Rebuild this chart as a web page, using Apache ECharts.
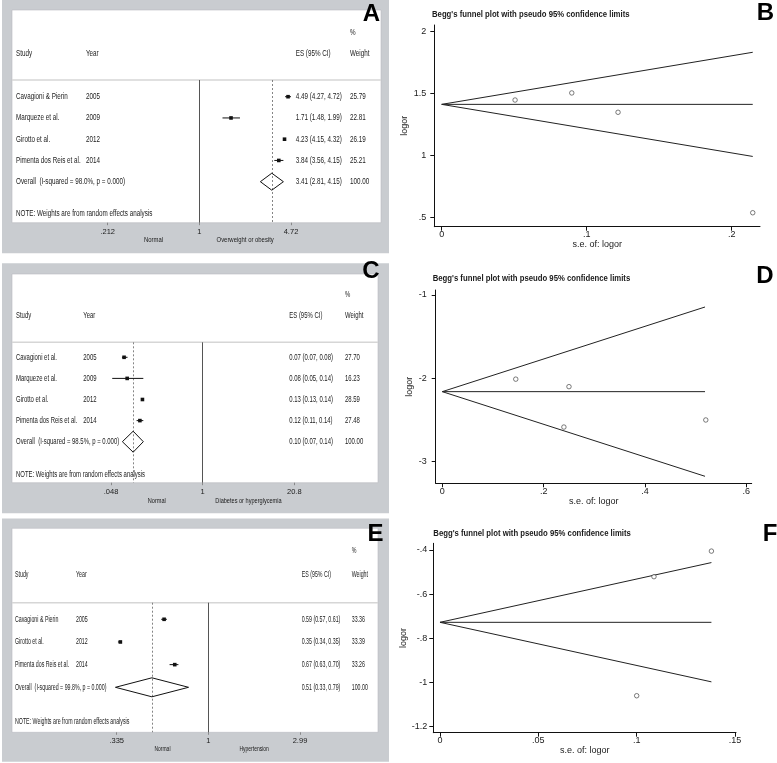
<!DOCTYPE html>
<html><head><meta charset="utf-8">
<script src="https://cdn.jsdelivr.net/npm/echarts@6/dist/echarts.min.js"></script>
<style>html,body{margin:0;padding:0;background:#fff}#c{width:777px;height:763px}</style>
</head><body><div id="c"></div>
<script>
// ================= DATA =================
// Panel A – Overweight or obesity
const studiesA = ['Cavagioni & Pierin', 'Marqueze et al.', 'Girotto et al.', 'Pimenta dos Reis et al.'];
const yearsA = ['2005', '2009', '2012', '2014'];
const esA = [4.49, 1.71, 4.23, 3.84];
const loA = [4.27, 1.48, 4.15, 3.56];
const hiA = [4.72, 1.99, 4.32, 4.15];
const esTextA = ['4.49 (4.27, 4.72)', '1.71 (1.48, 1.99)', '4.23 (4.15, 4.32)', '3.84 (3.56, 4.15)'];
const weightA = ['25.79', '22.81', '26.19', '25.21'];
const overallA = [3.41, 2.81, 4.15];
const overallTextA = ['Overall  (I-squared = 98.0%, p = 0.000)', '3.41 (2.81, 4.15)', '100.00'];
const ticksA = [0.212, 1, 4.72];
const tickLabelsA = ['.212', '1', '4.72'];
const favourA = ['Normal', 'Overweight or obesity'];

// Panel C – Diabetes or hyperglycemia
const studiesC = ['Cavagioni et al.', 'Marqueze et al.', 'Girotto et al.', 'Pimenta dos Reis et al.'];
const yearsC = ['2005', '2009', '2012', '2014'];
const esC = [0.074, 0.082, 0.136, 0.125];
const loC = [0.069, 0.050, 0.131, 0.112];
const hiC = [0.083, 0.140, 0.141, 0.140];
const esTextC = ['0.07 (0.07, 0.08)', '0.08 (0.05, 0.14)', '0.13 (0.13, 0.14)', '0.12 (0.11, 0.14)'];
const weightC = ['27.70', '16.23', '28.59', '27.48'];
const overallC = [0.10, 0.07, 0.14];
const overallTextC = ['Overall  (I-squared = 98.5%, p = 0.000)', '0.10 (0.07, 0.14)', '100.00'];
const ticksC = [0.048, 1, 20.8];
const tickLabelsC = ['.048', '1', '20.8'];
const favourC = ['Normal', 'Diabetes or hyperglycemia'];

// Panel E – Hypertension
const studiesE = ['Cavagioni & Pierin', 'Girotto et al.', 'Pimenta dos Reis et al.'];
const yearsE = ['2005', '2012', '2014'];
const esE = [0.59, 0.35, 0.67];
const loE = [0.57, 0.34, 0.63];
const hiE = [0.61, 0.35, 0.70];
const esTextE = ['0.59 (0.57, 0.61)', '0.35 (0.34, 0.35)', '0.67 (0.63, 0.70)'];
const weightE = ['33.36', '33.39', '33.26'];
const overallE = [0.51, 0.33, 0.79];
const overallTextE = ['Overall  (I-squared = 99.8%, p = 0.000)', '0.51 (0.33, 0.79)', '100.00'];
const ticksE = [0.335, 1, 2.99];
const tickLabelsE = ['.335', '1', '2.99'];
const favourE = ['Normal', 'Hypertension'];

const headerCols = ['Study', 'Year', 'ES (95% CI)', 'Weight'];
const noteText = 'NOTE: Weights are from random effects analysis';

// Funnel B
const seB = [0.0506, 0.0897, 0.1216, 0.2145];
const logorB = [1.449, 1.506, 1.350, 0.540];
const meanB = [[0, 1.414], [0.2145, 1.414]];
const upperB = [[0, 1.414], [0.2145, 1.834]];
const lowerB = [[0, 1.414], [0.2145, 0.994]];
const xTicksB = [0, 0.1, 0.2], xLabelsB = ['0', '.1', '.2'];
const yTicksB = [0.5, 1, 1.5, 2], yLabelsB = ['.5', '1', '1.5', '2'];

// Funnel D
const seD = [0.145, 0.250, 0.240, 0.520];
const logorD = [-2.01, -2.10, -2.585, -2.50];
const meanD = [[0, -2.16], [0.5185, -2.16]];
const upperD = [[0, -2.16], [0.5185, -1.144]];
const lowerD = [[0, -2.16], [0.5185, -3.176]];
const xTicksD = [0, 0.2, 0.4, 0.6], xLabelsD = ['0', '.2', '.4', '.6'];
const yTicksD = [-3, -2, -1], yLabelsD = ['-3', '-2', '-1'];

// Funnel F
const seF = [0.138, 0.1088, 0.100];
const logorF = [-0.405, -0.521, -1.061];
const meanF = [[0, -0.728], [0.138, -0.728]];
const upperF = [[0, -0.728], [0.138, -0.457]];
const lowerF = [[0, -0.728], [0.138, -0.998]];
const xTicksF = [0, 0.05, 0.1, 0.15], xLabelsF = ['0', '.05', '.1', '.15'];
const yTicksF = [-1.2, -1, -0.8, -0.6, -0.4], yLabelsF = ['-1.2', '-1', '-.8', '-.6', '-.4'];

const funnelTitle = "Begg's funnel plot with pseudo 95% confidence limits";
const funnelXName = 's.e. of: logor';
const funnelYName = 'logor';
const letters = ['A', 'B', 'C', 'D', 'E', 'F'];

// ================= LAYOUT =================
const FONT = 'Liberation Sans, Arial, Helvetica, sans-serif';
const GRAY = '#c9ccd0';
const TXT = '#1a1a1a';

const forests = [
  { d: { studies: studiesA, years: yearsA, es: esA, lo: loA, hi: hiA, esText: esTextA, weight: weightA, overall: overallA, overallText: overallTextA, ticks: ticksA, tickLabels: tickLabelsA, favour: favourA },
    L: { grid: { left: 107.7, top: 80, width: 183.3, height: 142.7 }, row0: 96.7, step: 21.25, bg: [2, 0, 389, 253.3], box: [12, 10, 381, 222.7], pctY: 32.3, headY: 53.3, noteY: 213.3, cols: [16, 86, 295.7, 350], dh: 8.5, favY: 239.3, letter: [371.5, 14], sx: 0.74 } },
  { d: { studies: studiesC, years: yearsC, es: esC, lo: loC, hi: hiC, esText: esTextC, weight: weightC, overall: overallC, overallText: overallTextC, ticks: ticksC, tickLabels: tickLabelsC, favour: favourC },
    L: { grid: { left: 111, top: 342.3, width: 183.3, height: 140.4 }, row0: 357.3, step: 21.1, bg: [2, 263.3, 389, 513.3], box: [12, 274, 378, 482.7], pctY: 295, headY: 316, noteY: 474.3, cols: [16, 83.3, 289.3, 345], dh: 10.5, favY: 501, letter: [371, 271.5], sx: 0.70 } },
  { d: { studies: studiesE, years: yearsE, es: esE, lo: loE, hi: hiE, esText: esTextE, weight: weightE, overall: overallE, overallText: overallTextE, ticks: ticksE, tickLabels: tickLabelsE, favour: favourE },
    L: { grid: { left: 116.7, top: 602.7, width: 183.3, height: 129.6 }, row0: 619.3, step: 22.67, bg: [2, 518.5, 389, 761.7], box: [12, 528.3, 378, 732.3], pctY: 550.7, headY: 574.3, noteY: 721.7, cols: [15, 76, 301.7, 351.7], dh: 9.5, favY: 748.3, letter: [375.5, 534], sx: 0.62 } }
];

const funnels = [
  { d: { se: seB, logor: logorB, mean: meanB, upper: upperB, lower: lowerB, xt: xTicksB, xl: xLabelsB, yt: yTicksB, yl: yLabelsB },
    L: { grid: { left: 434.3, top: 25, width: 325.7, height: 201.7 }, x: [-0.0051, 0.2195], y: [0.4274, 2.054], title: [432, 15], yGap: 25, xGap: 7, xm: 3, ym: 8, letter: [765.5, 13] } },
  { d: { se: seD, logor: logorD, mean: meanD, upper: upperD, lower: lowerD, xt: xTicksD, xl: xLabelsD, yt: yTicksD, yl: yLabelsD },
    L: { grid: { left: 435.7, top: 290, width: 316, height: 193.3 }, x: [-0.013, 0.6106], y: [-3.26, -0.94], title: [432.7, 279], yGap: 22, xGap: 12, xm: 4, ym: 9, letter: [765, 276.5] } },
  { d: { se: seF, logor: logorF, mean: meanF, upper: upperF, lower: lowerF, xt: xTicksF, xl: xLabelsF, yt: yTicksF, yl: yLabelsF },
    L: { grid: { left: 433.3, top: 543.3, width: 302.7, height: 189.4 }, x: [-0.0034, 0.1505], y: [-1.2286, -0.3696], title: [433.3, 534], yGap: 24, xGap: 12, xm: 3, ym: 6, letter: [770, 534.5] } }
];

// ================= BUILD =================
const grids = [], xAxes = [], yAxes = [], series = [], graphics = [];

function txt(x, y, text, o) {
  o = o || {};
  graphics.push({
    type: 'text', x: x, y: y, z: 100, scaleX: o.sx || 1, silent: true,
    style: { text: text, fill: o.fill || TXT, font: (o.weight || 'normal') + ' ' + (o.size || 8.5) + 'px ' + FONT,
      textAlign: o.align || 'left', textVerticalAlign: 'middle' }
  });
}

forests.forEach((f, gi) => {
  const d = f.d, L = f.L, SX = L.sx;
  graphics.push({ type: 'rect', z: -10, silent: true, shape: { x: L.bg[0], y: L.bg[1], width: L.bg[2] - L.bg[0], height: L.bg[3] - L.bg[1] }, style: { fill: GRAY } });
  graphics.push({ type: 'rect', z: -9, silent: true, shape: { x: L.box[0], y: L.box[1], width: L.box[2] - L.box[0], height: L.box[3] - L.box[1] }, style: { fill: '#fff', stroke: '#b8bbbf', lineWidth: 0.6 } });
  graphics.push({ type: 'line', z: -8, silent: true, shape: { x1: L.box[0], y1: L.grid.top, x2: L.box[2], y2: L.grid.top }, style: { stroke: '#d6d6d6', lineWidth: 1.5 } });

  const xmin = Math.log(d.ticks[0]), xmax = Math.log(d.ticks[2]);
  const ymin = -(L.row0 - L.grid.top) / L.step;
  const ymax = ymin + L.grid.height / L.step;
  grids.push(Object.assign({ containLabel: false }, L.grid));
  xAxes.push({
    type: 'value', gridIndex: gi, min: xmin, max: xmax, position: 'bottom',
    axisLine: { show: false, onZero: false }, splitLine: { show: false },
    axisTick: { show: true, length: 2.5, lineStyle: { color: '#777', width: 0.8 }, customValues: d.ticks.map(v => Math.log(v)) },
    axisLabel: { show: true, fontSize: 7.5, color: TXT, fontFamily: FONT, margin: 5,
      customValues: d.ticks.map(v => Math.log(v)),
      formatter: v => { const i = d.ticks.findIndex(t => Math.abs(Math.log(t) - v) < 1e-6); return i >= 0 ? d.tickLabels[i] : ''; } }
  });
  yAxes.push({ type: 'value', gridIndex: gi, inverse: true, min: ymin, max: ymax, show: false });

  const n = d.studies.length;
  // reference lines (null effect and overall estimate)
  series.push({
    type: 'scatter', xAxisIndex: gi, yAxisIndex: gi, silent: true, symbolSize: 0, data: [],
    markLine: {
      silent: true, symbol: 'none', label: { show: false }, animation: false,
      data: [
        { xAxis: 0, lineStyle: { color: '#555', width: 1, type: 'solid' } },
        { xAxis: Math.log(d.overall[0]), lineStyle: { color: '#777', width: 0.9, type: [2, 2] } }
      ]
    }
  });
  // study estimates with confidence intervals
  series.push({
    type: 'custom', xAxisIndex: gi, yAxisIndex: gi, silent: true, z: 5, clip: false,
    data: d.es.map((v, i) => [Math.log(v), Math.log(d.lo[i]), Math.log(d.hi[i]), i]),
    renderItem: (params, api) => {
      const r = api.value(3);
      const pl = api.coord([api.value(1), r]), pr = api.coord([api.value(2), r]), pc = api.coord([api.value(0), r]);
      return { type: 'group', children: [
        { type: 'line', shape: { x1: pl[0], y1: pl[1], x2: pr[0], y2: pr[1] }, style: { stroke: '#111', lineWidth: 1 } },
        { type: 'rect', shape: { x: pc[0] - 1.8, y: pc[1] - 1.8, width: 3.6, height: 3.6 }, style: { fill: '#111' } }
      ] };
    }
  });
  // overall diamond
  const dh = L.dh;
  series.push({
    type: 'custom', xAxisIndex: gi, yAxisIndex: gi, silent: true, z: 5, clip: false,
    data: [[Math.log(d.overall[0]), Math.log(d.overall[1]), Math.log(d.overall[2]), n]],
    renderItem: (params, api) => {
      const r = api.value(3);
      const pl = api.coord([api.value(1), r]), pr = api.coord([api.value(2), r]), pc = api.coord([api.value(0), r]);
      return { type: 'polygon', shape: { points: [pl, [pc[0], pc[1] - dh], pr, [pc[0], pc[1] + dh]] },
        style: { fill: 'rgba(0,0,0,0)', stroke: '#111', lineWidth: 1 } };
    }
  });

  const C = L.cols;
  txt(C[3], L.pctY, '%', { sx: SX });
  headerCols.forEach((h, k) => txt(C[k], L.headY, h, { sx: SX }));
  for (let i = 0; i < n; i++) {
    const y = L.row0 + i * L.step;
    txt(C[0], y, d.studies[i], { sx: SX });
    txt(C[1], y, d.years[i], { sx: SX });
    txt(C[2], y, d.esText[i], { sx: SX });
    txt(C[3], y, d.weight[i], { sx: SX });
  }
  const yo = L.row0 + n * L.step;
  txt(C[0], yo, d.overallText[0], { sx: SX });
  txt(C[2], yo, d.overallText[1], { sx: SX });
  txt(C[3], yo, d.overallText[2], { sx: SX });
  txt(C[0], L.noteY, noteText, { sx: SX });
  const nullPx = L.grid.left + (0 - xmin) / (xmax - xmin) * L.grid.width;
  txt((L.grid.left + nullPx) / 2, L.favY, d.favour[0], { sx: SX, size: 8, align: 'center' });
  txt((nullPx + L.grid.left + L.grid.width) / 2, L.favY, d.favour[1], { sx: SX, size: 8, align: 'center' });
});

funnels.forEach((f, k) => {
  const gi = 3 + k, d = f.d, L = f.L;
  grids.push(Object.assign({ containLabel: false }, L.grid));
  const lab = (vals, labs) => v => { const i = vals.findIndex(t => Math.abs(t - v) < 1e-9); return i >= 0 ? labs[i] : ''; };
  xAxes.push({
    type: 'value', gridIndex: gi, min: L.x[0], max: L.x[1],
    name: funnelXName, nameLocation: 'middle', nameGap: L.xGap,
    nameTextStyle: { fontSize: 9, color: TXT, fontFamily: FONT },
    axisLine: { show: true, onZero: false, lineStyle: { color: '#111', width: 1 } },
    axisTick: { show: true, length: 4, lineStyle: { color: '#111' }, customValues: d.xt },
    axisLabel: { fontSize: 9, color: TXT, fontFamily: FONT, margin: L.xm, customValues: d.xt, formatter: lab(d.xt, d.xl) },
    splitLine: { show: false }
  });
  yAxes.push({
    type: 'value', gridIndex: gi, min: L.y[0], max: L.y[1],
    name: funnelYName, nameLocation: 'middle', nameGap: L.yGap, nameRotate: 90,
    nameTextStyle: { fontSize: 9, color: TXT, fontFamily: FONT },
    axisLine: { show: true, onZero: false, lineStyle: { color: '#111', width: 1 } },
    axisTick: { show: true, length: 4, lineStyle: { color: '#111' }, customValues: d.yt },
    axisLabel: { fontSize: 9, color: TXT, fontFamily: FONT, margin: L.ym, customValues: d.yt, formatter: lab(d.yt, d.yl) },
    splitLine: { show: false }
  });
  [d.upper, d.mean, d.lower].forEach(pts => series.push({
    type: 'line', xAxisIndex: gi, yAxisIndex: gi, data: pts, showSymbol: false, silent: true,
    lineStyle: { color: '#222', width: 1 }, z: 3
  }));
  series.push({
    type: 'scatter', xAxisIndex: gi, yAxisIndex: gi, silent: true, z: 4,
    symbol: 'circle', symbolSize: 4.5,
    itemStyle: { color: '#fff', borderColor: '#333', borderWidth: 0.8 },
    data: d.se.map((s, i) => [s, d.logor[i]])
  });
  txt(L.title[0], L.title[1], funnelTitle, { size: 9, weight: 'bold', sx: 0.86 });
});

const letterPos = [forests[0].L.letter, funnels[0].L.letter, forests[1].L.letter, funnels[1].L.letter, forests[2].L.letter, funnels[2].L.letter];
letters.forEach((t, i) => txt(letterPos[i][0], letterPos[i][1], t, { size: 24, weight: 'bold', align: 'center', fill: '#000' }));

const chart = echarts.init(document.getElementById('c'), null, { renderer: 'canvas' });
chart.setOption({
  animation: false,
  backgroundColor: '#fff',
  grid: grids, xAxis: xAxes, yAxis: yAxes, series: series,
  graphic: { elements: graphics }
});
</script>
</body></html>
